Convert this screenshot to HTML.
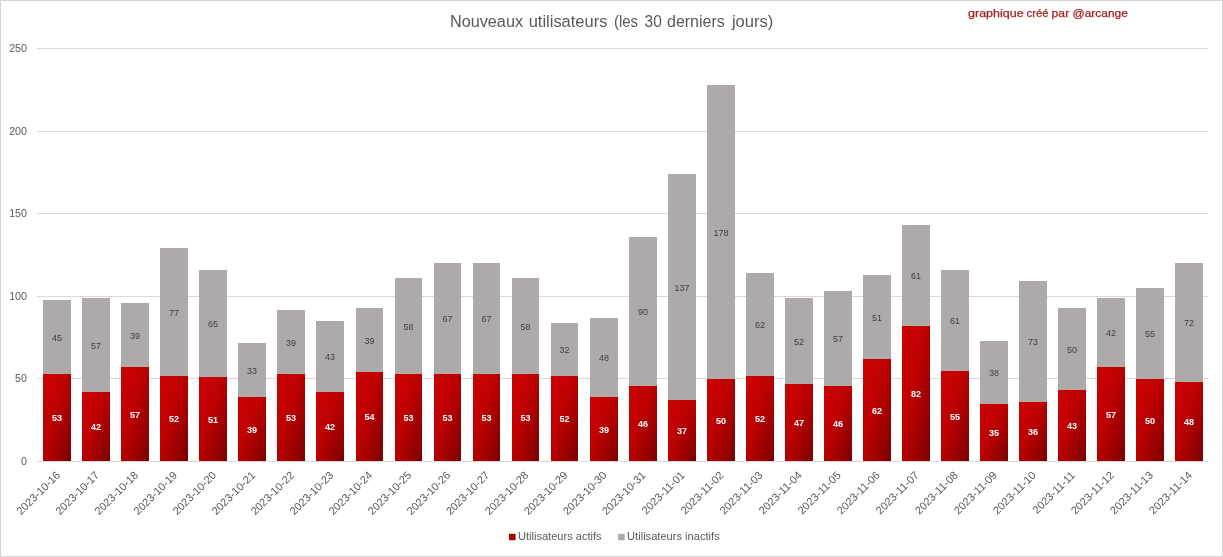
<!DOCTYPE html>
<html><head><meta charset="utf-8"><title>Nouveaux utilisateurs</title>
<style>
html,body{margin:0;padding:0;background:#fff;}
body{width:1223px;height:557px;overflow:hidden;font-family:"Liberation Sans",sans-serif;}
svg{display:block;font-family:"Liberation Sans",sans-serif;will-change:transform;opacity:0.999;}
.ax{font-size:11px;fill:#595959;}
.dl{font-size:9px;fill:#404040;text-anchor:middle;}
.al{font-size:9px;fill:#ffffff;font-weight:bold;text-anchor:middle;}
.tt{font-size:16px;fill:#595959;}
.an{font-size:11.6px;fill:#a51c1c;stroke:#a51c1c;stroke-width:0.25px;}
.lg{font-size:11px;fill:#595959;}
</style></head><body>
<svg width="1223" height="557" viewBox="0 0 1223 557">
<defs>
<linearGradient id="rg" x1="0" y1="0" x2="1" y2="1">
<stop offset="0" stop-color="#cc0000"/>
<stop offset="0.4" stop-color="#c00000"/>
<stop offset="0.7" stop-color="#a00000"/>
<stop offset="1" stop-color="#780000"/>
</linearGradient>
</defs>
<rect x="0" y="0" width="1223" height="557" fill="#ffffff"/>
<rect x="0.5" y="0.5" width="1222" height="556" fill="none" stroke="#d4d4d4" stroke-width="1"/>

<line x1="37.0" y1="378.50" x2="1208.0" y2="378.50" stroke="#d9d9d9" stroke-width="1"/>
<line x1="37.0" y1="296.50" x2="1208.0" y2="296.50" stroke="#d9d9d9" stroke-width="1"/>
<line x1="37.0" y1="213.50" x2="1208.0" y2="213.50" stroke="#d9d9d9" stroke-width="1"/>
<line x1="37.0" y1="131.50" x2="1208.0" y2="131.50" stroke="#d9d9d9" stroke-width="1"/>
<line x1="37.0" y1="48.50" x2="1208.0" y2="48.50" stroke="#d9d9d9" stroke-width="1"/>
<text class="ax" x="21.05" y="465.00" textLength="5.95" lengthAdjust="spacingAndGlyphs">0</text>
<text class="ax" x="15.10" y="382.40" textLength="11.90" lengthAdjust="spacingAndGlyphs">50</text>
<text class="ax" x="9.15" y="299.80" textLength="17.85" lengthAdjust="spacingAndGlyphs">100</text>
<text class="ax" x="9.15" y="217.20" textLength="17.85" lengthAdjust="spacingAndGlyphs">150</text>
<text class="ax" x="9.15" y="134.60" textLength="17.85" lengthAdjust="spacingAndGlyphs">200</text>
<text class="ax" x="9.15" y="52.00" textLength="17.85" lengthAdjust="spacingAndGlyphs">250</text>
<rect x="43" y="300" width="28" height="74.00" fill="#aeaaaa"/>
<rect x="43" y="374" width="28" height="87.00" fill="url(#rg)"/>
<text class="dl" x="57.0" y="340.60">45</text>
<text class="al" x="57.0" y="421.10">53</text>
<rect x="82" y="298" width="28" height="94.00" fill="#aeaaaa"/>
<rect x="82" y="392" width="28" height="69.00" fill="url(#rg)"/>
<text class="dl" x="96.0" y="348.60">57</text>
<text class="al" x="96.0" y="430.10">42</text>
<rect x="121" y="303" width="28" height="64.00" fill="#aeaaaa"/>
<rect x="121" y="367" width="28" height="94.00" fill="url(#rg)"/>
<text class="dl" x="135.0" y="338.60">39</text>
<text class="al" x="135.0" y="417.60">57</text>
<rect x="160" y="248" width="28" height="128.00" fill="#aeaaaa"/>
<rect x="160" y="376" width="28" height="85.00" fill="url(#rg)"/>
<text class="dl" x="174.0" y="315.60">77</text>
<text class="al" x="174.0" y="422.10">52</text>
<rect x="199" y="270" width="28" height="107.00" fill="#aeaaaa"/>
<rect x="199" y="377" width="28" height="84.00" fill="url(#rg)"/>
<text class="dl" x="213.0" y="327.10">65</text>
<text class="al" x="213.0" y="422.60">51</text>
<rect x="238" y="343" width="28" height="54.00" fill="#aeaaaa"/>
<rect x="238" y="397" width="28" height="64.00" fill="url(#rg)"/>
<text class="dl" x="252.0" y="373.60">33</text>
<text class="al" x="252.0" y="432.60">39</text>
<rect x="277" y="310" width="28" height="64.00" fill="#aeaaaa"/>
<rect x="277" y="374" width="28" height="87.00" fill="url(#rg)"/>
<text class="dl" x="291.0" y="345.60">39</text>
<text class="al" x="291.0" y="421.10">53</text>
<rect x="316" y="321" width="28" height="71.00" fill="#aeaaaa"/>
<rect x="316" y="392" width="28" height="69.00" fill="url(#rg)"/>
<text class="dl" x="330.0" y="360.10">43</text>
<text class="al" x="330.0" y="430.10">42</text>
<rect x="356" y="308" width="27" height="64.00" fill="#aeaaaa"/>
<rect x="356" y="372" width="27" height="89.00" fill="url(#rg)"/>
<text class="dl" x="369.5" y="343.60">39</text>
<text class="al" x="369.5" y="420.10">54</text>
<rect x="395" y="278" width="27" height="96.00" fill="#aeaaaa"/>
<rect x="395" y="374" width="27" height="87.00" fill="url(#rg)"/>
<text class="dl" x="408.5" y="329.60">58</text>
<text class="al" x="408.5" y="421.10">53</text>
<rect x="434" y="263" width="27" height="111.00" fill="#aeaaaa"/>
<rect x="434" y="374" width="27" height="87.00" fill="url(#rg)"/>
<text class="dl" x="447.5" y="322.10">67</text>
<text class="al" x="447.5" y="421.10">53</text>
<rect x="473" y="263" width="27" height="111.00" fill="#aeaaaa"/>
<rect x="473" y="374" width="27" height="87.00" fill="url(#rg)"/>
<text class="dl" x="486.5" y="322.10">67</text>
<text class="al" x="486.5" y="421.10">53</text>
<rect x="512" y="278" width="27" height="96.00" fill="#aeaaaa"/>
<rect x="512" y="374" width="27" height="87.00" fill="url(#rg)"/>
<text class="dl" x="525.5" y="329.60">58</text>
<text class="al" x="525.5" y="421.10">53</text>
<rect x="551" y="323" width="27" height="53.00" fill="#aeaaaa"/>
<rect x="551" y="376" width="27" height="85.00" fill="url(#rg)"/>
<text class="dl" x="564.5" y="353.10">32</text>
<text class="al" x="564.5" y="422.10">52</text>
<rect x="590" y="318" width="28" height="79.00" fill="#aeaaaa"/>
<rect x="590" y="397" width="28" height="64.00" fill="url(#rg)"/>
<text class="dl" x="604.0" y="361.10">48</text>
<text class="al" x="604.0" y="432.60">39</text>
<rect x="629" y="237" width="28" height="149.00" fill="#aeaaaa"/>
<rect x="629" y="386" width="28" height="75.00" fill="url(#rg)"/>
<text class="dl" x="643.0" y="315.10">90</text>
<text class="al" x="643.0" y="427.10">46</text>
<rect x="668" y="174" width="28" height="226.00" fill="#aeaaaa"/>
<rect x="668" y="400" width="28" height="61.00" fill="url(#rg)"/>
<text class="dl" x="682.0" y="290.60">137</text>
<text class="al" x="682.0" y="434.10">37</text>
<rect x="707" y="85" width="28" height="294.00" fill="#aeaaaa"/>
<rect x="707" y="379" width="28" height="82.00" fill="url(#rg)"/>
<text class="dl" x="721.0" y="235.60">178</text>
<text class="al" x="721.0" y="423.60">50</text>
<rect x="746" y="273" width="28" height="103.00" fill="#aeaaaa"/>
<rect x="746" y="376" width="28" height="85.00" fill="url(#rg)"/>
<text class="dl" x="760.0" y="328.10">62</text>
<text class="al" x="760.0" y="422.10">52</text>
<rect x="785" y="298" width="28" height="86.00" fill="#aeaaaa"/>
<rect x="785" y="384" width="28" height="77.00" fill="url(#rg)"/>
<text class="dl" x="799.0" y="344.60">52</text>
<text class="al" x="799.0" y="426.10">47</text>
<rect x="824" y="291" width="28" height="95.00" fill="#aeaaaa"/>
<rect x="824" y="386" width="28" height="75.00" fill="url(#rg)"/>
<text class="dl" x="838.0" y="342.10">57</text>
<text class="al" x="838.0" y="427.10">46</text>
<rect x="863" y="275" width="28" height="84.00" fill="#aeaaaa"/>
<rect x="863" y="359" width="28" height="102.00" fill="url(#rg)"/>
<text class="dl" x="877.0" y="320.60">51</text>
<text class="al" x="877.0" y="413.60">62</text>
<rect x="902" y="225" width="28" height="101.00" fill="#aeaaaa"/>
<rect x="902" y="326" width="28" height="135.00" fill="url(#rg)"/>
<text class="dl" x="916.0" y="279.10">61</text>
<text class="al" x="916.0" y="397.10">82</text>
<rect x="941" y="270" width="28" height="101.00" fill="#aeaaaa"/>
<rect x="941" y="371" width="28" height="90.00" fill="url(#rg)"/>
<text class="dl" x="955.0" y="324.10">61</text>
<text class="al" x="955.0" y="419.60">55</text>
<rect x="980" y="341" width="28" height="63.00" fill="#aeaaaa"/>
<rect x="980" y="404" width="28" height="57.00" fill="url(#rg)"/>
<text class="dl" x="994.0" y="376.10">38</text>
<text class="al" x="994.0" y="436.10">35</text>
<rect x="1019" y="281" width="28" height="121.00" fill="#aeaaaa"/>
<rect x="1019" y="402" width="28" height="59.00" fill="url(#rg)"/>
<text class="dl" x="1033.0" y="345.10">73</text>
<text class="al" x="1033.0" y="435.10">36</text>
<rect x="1058" y="308" width="28" height="82.00" fill="#aeaaaa"/>
<rect x="1058" y="390" width="28" height="71.00" fill="url(#rg)"/>
<text class="dl" x="1072.0" y="352.60">50</text>
<text class="al" x="1072.0" y="429.10">43</text>
<rect x="1097" y="298" width="28" height="69.00" fill="#aeaaaa"/>
<rect x="1097" y="367" width="28" height="94.00" fill="url(#rg)"/>
<text class="dl" x="1111.0" y="336.10">42</text>
<text class="al" x="1111.0" y="417.60">57</text>
<rect x="1136" y="288" width="28" height="91.00" fill="#aeaaaa"/>
<rect x="1136" y="379" width="28" height="82.00" fill="url(#rg)"/>
<text class="dl" x="1150.0" y="337.10">55</text>
<text class="al" x="1150.0" y="423.60">50</text>
<rect x="1175" y="263" width="28" height="119.00" fill="#aeaaaa"/>
<rect x="1175" y="382" width="28" height="79.00" fill="url(#rg)"/>
<text class="dl" x="1189.0" y="326.10">72</text>
<text class="al" x="1189.0" y="425.10">48</text>
<line x1="37.0" y1="461.5" x2="1208.0" y2="461.5" stroke="#d9d9d9" stroke-width="1"/>
<text class="ax" text-anchor="end" transform="translate(60.80,475.80) rotate(-45)">2023-10-16</text>
<text class="ax" text-anchor="end" transform="translate(99.83,475.80) rotate(-45)">2023-10-17</text>
<text class="ax" text-anchor="end" transform="translate(138.87,475.80) rotate(-45)">2023-10-18</text>
<text class="ax" text-anchor="end" transform="translate(177.90,475.80) rotate(-45)">2023-10-19</text>
<text class="ax" text-anchor="end" transform="translate(216.94,475.80) rotate(-45)">2023-10-20</text>
<text class="ax" text-anchor="end" transform="translate(255.97,475.80) rotate(-45)">2023-10-21</text>
<text class="ax" text-anchor="end" transform="translate(295.01,475.80) rotate(-45)">2023-10-22</text>
<text class="ax" text-anchor="end" transform="translate(334.04,475.80) rotate(-45)">2023-10-23</text>
<text class="ax" text-anchor="end" transform="translate(373.08,475.80) rotate(-45)">2023-10-24</text>
<text class="ax" text-anchor="end" transform="translate(412.11,475.80) rotate(-45)">2023-10-25</text>
<text class="ax" text-anchor="end" transform="translate(451.14,475.80) rotate(-45)">2023-10-26</text>
<text class="ax" text-anchor="end" transform="translate(490.18,475.80) rotate(-45)">2023-10-27</text>
<text class="ax" text-anchor="end" transform="translate(529.21,475.80) rotate(-45)">2023-10-28</text>
<text class="ax" text-anchor="end" transform="translate(568.25,475.80) rotate(-45)">2023-10-29</text>
<text class="ax" text-anchor="end" transform="translate(607.28,475.80) rotate(-45)">2023-10-30</text>
<text class="ax" text-anchor="end" transform="translate(646.32,475.80) rotate(-45)">2023-10-31</text>
<text class="ax" text-anchor="end" transform="translate(685.35,475.80) rotate(-45)">2023-11-01</text>
<text class="ax" text-anchor="end" transform="translate(724.39,475.80) rotate(-45)">2023-11-02</text>
<text class="ax" text-anchor="end" transform="translate(763.42,475.80) rotate(-45)">2023-11-03</text>
<text class="ax" text-anchor="end" transform="translate(802.46,475.80) rotate(-45)">2023-11-04</text>
<text class="ax" text-anchor="end" transform="translate(841.49,475.80) rotate(-45)">2023-11-05</text>
<text class="ax" text-anchor="end" transform="translate(880.52,475.80) rotate(-45)">2023-11-06</text>
<text class="ax" text-anchor="end" transform="translate(919.56,475.80) rotate(-45)">2023-11-07</text>
<text class="ax" text-anchor="end" transform="translate(958.59,475.80) rotate(-45)">2023-11-08</text>
<text class="ax" text-anchor="end" transform="translate(997.63,475.80) rotate(-45)">2023-11-09</text>
<text class="ax" text-anchor="end" transform="translate(1036.66,475.80) rotate(-45)">2023-11-10</text>
<text class="ax" text-anchor="end" transform="translate(1075.70,475.80) rotate(-45)">2023-11-11</text>
<text class="ax" text-anchor="end" transform="translate(1114.73,475.80) rotate(-45)">2023-11-12</text>
<text class="ax" text-anchor="end" transform="translate(1153.77,475.80) rotate(-45)">2023-11-13</text>
<text class="ax" text-anchor="end" transform="translate(1192.80,475.80) rotate(-45)">2023-11-14</text>
<text class="tt" x="450.0" y="27" textLength="73.0" lengthAdjust="spacingAndGlyphs">Nouveaux</text>
<text class="tt" x="528.7" y="27" textLength="78.7" lengthAdjust="spacingAndGlyphs">utilisateurs</text>
<text class="tt" x="614.0" y="27" textLength="24.0" lengthAdjust="spacingAndGlyphs">(les</text>
<text class="tt" x="644.6" y="27" textLength="17.2" lengthAdjust="spacingAndGlyphs">30</text>
<text class="tt" x="667.0" y="27" textLength="57.8" lengthAdjust="spacingAndGlyphs">derniers</text>
<text class="tt" x="731.9" y="27" textLength="41.5" lengthAdjust="spacingAndGlyphs">jours)</text>
<text class="an" x="968.1" y="17.2" textLength="55.5" lengthAdjust="spacingAndGlyphs">graphique</text>
<text class="an" x="1026.5" y="17.2" textLength="22.1" lengthAdjust="spacingAndGlyphs">créé</text>
<text class="an" x="1051.6" y="17.2" textLength="17.6" lengthAdjust="spacingAndGlyphs">par</text>
<text class="an" x="1072.6" y="17.2" textLength="55.2" lengthAdjust="spacingAndGlyphs">@arcange</text>
<rect x="509" y="533.8" width="6.6" height="6.4" fill="#a80000"/>
<text class="lg" x="518.0" y="539.8" textLength="83.6" lengthAdjust="spacingAndGlyphs">Utilisateurs actifs</text>
<rect x="618.1" y="533.8" width="6.6" height="6.4" fill="#aeaaaa"/>
<text class="lg" x="627.1" y="539.8" textLength="92.6" lengthAdjust="spacingAndGlyphs">Utilisateurs inactifs</text>
</svg></body></html>
